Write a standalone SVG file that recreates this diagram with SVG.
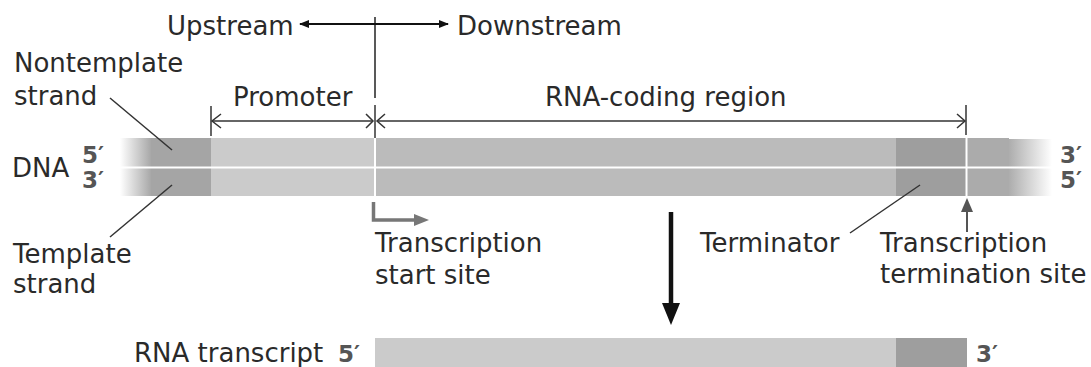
<svg xmlns="http://www.w3.org/2000/svg" width="1091" height="367" viewBox="0 0 1091 367">
<style>
.t{font-family:"DejaVu Sans",sans-serif;font-size:26px;fill:#2a2a2a}
.p{font-family:"DejaVu Sans",sans-serif;font-size:23px;font-weight:bold;fill:#555}
.dim{stroke:#333;stroke-width:1.5;fill:none}
.lead{stroke:#333;stroke-width:1.5;fill:none}
</style>
<defs>
<linearGradient id="gl" x1="120" y1="0" x2="152" y2="0" gradientUnits="userSpaceOnUse">
<stop offset="0" stop-color="#a5a5a5" stop-opacity="0"/>
<stop offset="1" stop-color="#a5a5a5"/>
</linearGradient>
<linearGradient id="gr" x1="1008" y1="0" x2="1052" y2="0" gradientUnits="userSpaceOnUse">
<stop offset="0" stop-color="#ababab"/>
<stop offset="1" stop-color="#ababab" stop-opacity="0"/>
</linearGradient>
<marker id="ah" viewBox="0 0 10 10" refX="9" refY="5" markerWidth="10" markerHeight="10" markerUnits="userSpaceOnUse" orient="auto">
<path d="M0,1 L10,5 L0,9 z" fill="#111"/>
</marker>
</defs>

<g id="dna">
<rect x="120" y="138" width="32" height="58" fill="url(#gl)"/>
<rect x="151" y="138" width="60" height="58" fill="#a5a5a5"/>
<rect x="211" y="138" width="164" height="58" fill="#cbcbcb"/>
<rect x="375" y="138" width="521" height="58" fill="#bbbbbb"/>
<rect x="896" y="138" width="71" height="58" fill="#9e9e9e"/>
<rect x="967" y="138" width="42" height="58" fill="#ababab"/>
<rect x="1008" y="139" width="44" height="57" fill="url(#gr)"/>
<line x1="120" y1="167.5" x2="1052" y2="167.5" stroke="#fff" stroke-width="2"/>
<line x1="375" y1="138" x2="375" y2="196" stroke="#fff" stroke-width="2"/>
<line x1="966.5" y1="138" x2="966.5" y2="196" stroke="#fff" stroke-width="2"/>
</g>

<g id="rna">
<rect x="375" y="338" width="521" height="29" fill="#cbcbcb"/>
<rect x="896" y="338" width="71" height="29" fill="#9e9e9e"/>
</g>

<g id="labels">
<text class="t" x="12" y="177">DNA</text>
<text class="p" x="82" y="163">5′</text>
<text class="p" x="82" y="188">3′</text>
<text class="p" x="1060" y="163">3′</text>
<text class="p" x="1060" y="188">5′</text>
<text class="t" x="167" y="35">Upstream</text>
<text class="t" x="457" y="35">Downstream</text>
<text class="t" x="14" y="72">Nontemplate</text>
<text class="t" x="14" y="105">strand</text>
<text class="t" x="233" y="106">Promoter</text>
<text class="t" x="545" y="106">RNA-coding region</text>
<text class="t" x="13" y="263">Template</text>
<text class="t" x="13" y="293">strand</text>
<text class="t" x="375" y="252">Transcription</text>
<text class="t" x="375" y="284">start site</text>
<text class="t" x="700" y="252">Terminator</text>
<text class="t" x="880" y="252">Transcription</text>
<text class="t" x="880" y="283">termination site</text>
<text class="t" x="134" y="362">RNA transcript</text>
<text class="p" x="338" y="362">5′</text>
<text class="p" x="976" y="362">3′</text>
</g>

<g id="connectors">
<line x1="375" y1="17" x2="375" y2="98" stroke="#222" stroke-width="1.5"/>
<line x1="375" y1="24" x2="300" y2="24" stroke="#111" stroke-width="2.2" marker-end="url(#ah)"/>
<line x1="375" y1="24" x2="448" y2="24" stroke="#111" stroke-width="2.2" marker-end="url(#ah)"/>
<line class="dim" x1="211" y1="106" x2="211" y2="136"/>
<line class="dim" x1="375" y1="105" x2="375" y2="138"/>
<line class="dim" x1="966" y1="105" x2="966" y2="135"/>
<line class="dim" x1="212" y1="121" x2="373" y2="121"/>
<path class="dim" d="M221,114 L212,121 L221,128"/>
<path class="dim" d="M366,114 L373,121 L366,128"/>
<line class="dim" x1="377" y1="121" x2="965" y2="121"/>
<path class="dim" d="M385,114 L377,121 L385,128"/>
<path class="dim" d="M957,114 L965,121 L957,128"/>
<line class="lead" x1="110" y1="98" x2="172" y2="150"/>
<line class="lead" x1="110" y1="237" x2="172" y2="185"/>
<line class="lead" x1="850" y1="233" x2="920" y2="185"/>
<path d="M373.5,202 L373.5,220 L416,220" fill="none" stroke="#777" stroke-width="3.5"/>
<path d="M414,214 L429,220 L414,226 z" fill="#777"/>
<line x1="967" y1="232" x2="967" y2="210" stroke="#555" stroke-width="2"/>
<path d="M961,212 L967,198 L973,212 z" fill="#555"/>
<line x1="671" y1="212" x2="671" y2="306" stroke="#111" stroke-width="4.5"/>
<path d="M662,303 L680,303 L671,325 z" fill="#111"/>
</g>
</svg>
